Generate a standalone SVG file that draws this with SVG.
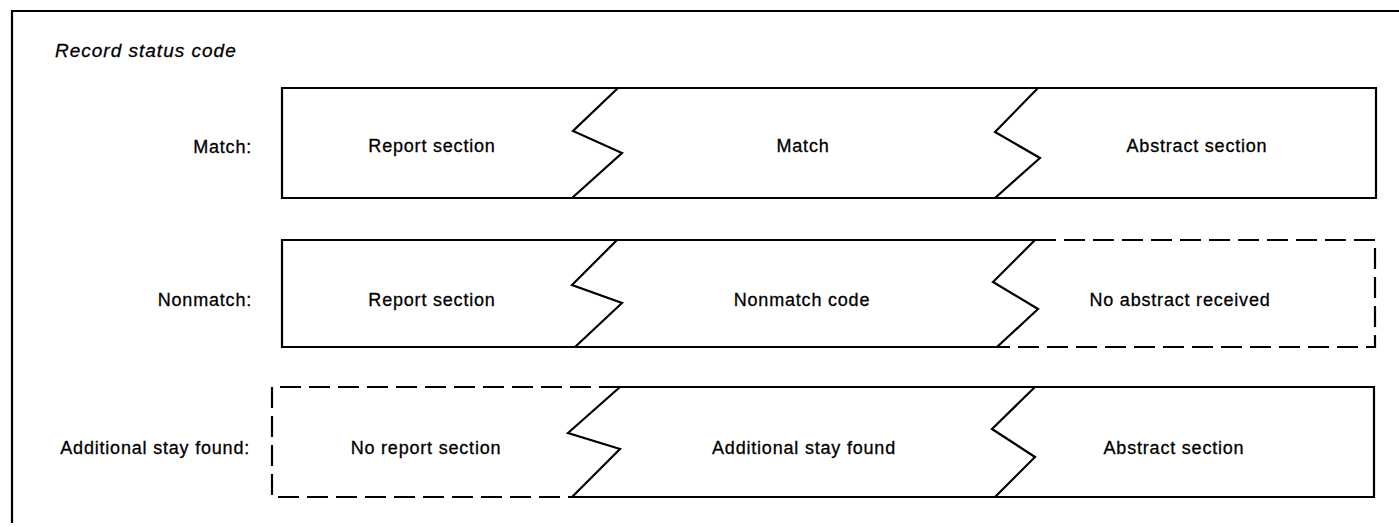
<svg xmlns="http://www.w3.org/2000/svg" width="1399" height="527" viewBox="0 0 1399 527">
  <style>
    .ln { fill: none; stroke: #000; stroke-width: 2.2; stroke-linejoin: miter; }
    .dash { stroke-dasharray: 21 8; }
    .t { font-family: "Liberation Sans", Arial, sans-serif; font-size: 18px; letter-spacing: 0.8px; fill: #000; stroke: #000; stroke-width: 0.3; }
    .c { text-anchor: middle; }
    .r { text-anchor: end; }
    .title { font-style: italic; font-size: 19px; letter-spacing: 1px; }
  </style>
  <rect width="1399" height="527" fill="#fff"/>
  <g id="frame">
    <path class="ln" d="M12,523 V11 H1399"/>
    <text class="t title" x="55" y="57">Record status code</text>
  </g>
  <g id="connectors"></g>

  <g id="row-match">
    <text class="t r" x="252" y="153">Match:</text>
    <g id="match-report">
      <path class="ln" d="M618,88 H282 V198 H572"/>
      <text class="t c" x="432" y="152">Report section</text>
    </g>
    <g id="match-match">
      <path class="ln" d="M618,88 H1038 M572,198 H995"/>
      <path class="ln" d="M618,88 L573,131 L622,153 L572,198"/>
      <text class="t c" x="803" y="152">Match</text>
    </g>
    <g id="match-abstract">
      <path class="ln" d="M1038,88 H1376 V198 H995"/>
      <path class="ln" d="M1038,88 L995,132 L1040,158 L995,198"/>
      <text class="t c" x="1197" y="152">Abstract section</text>
    </g>
  </g>

  <g id="row-nonmatch">
    <text class="t r" x="252" y="306">Nonmatch:</text>
    <g id="nonmatch-report">
      <path class="ln" d="M617,240 H282 V347 H575"/>
      <text class="t c" x="432" y="306">Report section</text>
    </g>
    <g id="nonmatch-code">
      <path class="ln" d="M617,240 H1035 M575,347 H997"/>
      <path class="ln" d="M617,240 L572,285 L622,303 L575,347"/>
      <text class="t c" x="802" y="306">Nonmatch code</text>
    </g>
    <g id="nonmatch-abstract">
      <path class="ln dash" d="M1035,240 H1375 V347 H997"/>
      <path class="ln" d="M1035,240 L993,282 L1038,309 L997,347"/>
      <text class="t c" x="1180" y="306">No abstract received</text>
    </g>
  </g>

  <g id="row-additional">
    <text class="t r" x="250" y="454">Additional stay found:</text>
    <g id="additional-report">
      <path class="ln dash" d="M620,387 H272 V497 H572"/>
      <text class="t c" x="426" y="454">No report section</text>
    </g>
    <g id="additional-stay">
      <path class="ln" d="M620,387 H1035 M572,497 H995"/>
      <path class="ln" d="M620,387 L568,433 L620,449 L572,497"/>
      <text class="t c" x="804" y="454">Additional stay found</text>
    </g>
    <g id="additional-abstract">
      <path class="ln" d="M1035,387 H1374 V497 H995"/>
      <path class="ln" d="M1035,387 L992,429 L1035,457 L995,497"/>
      <text class="t c" x="1174" y="454">Abstract section</text>
    </g>
  </g>
</svg>
